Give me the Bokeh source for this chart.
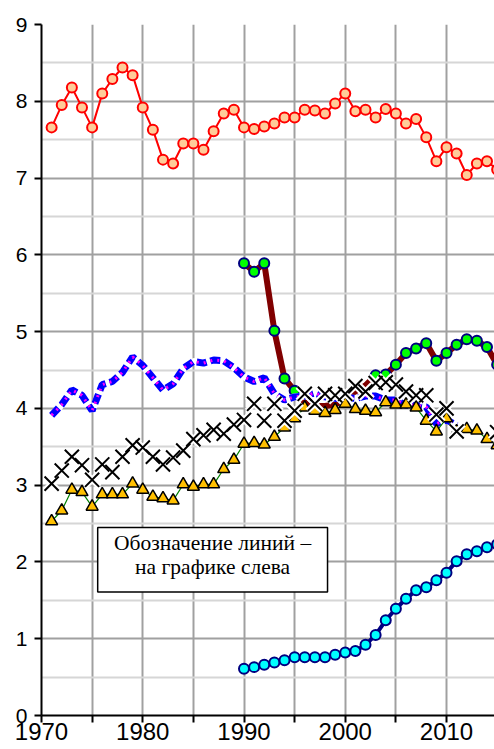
import numpy as np
from bokeh.plotting import figure
from bokeh.models import FixedTicker, Range1d, BoxAnnotation, Label, ColumnDataSource, CDSView, IndexFilter
from bokeh.embed import file_html
from bokeh.resources import INLINE

# ---------------- data ----------------
years_full = list(range(1971, 2016))
years_late = list(range(1990, 2016))
years_blue = list(range(1971, 2012))

red_vals = [7.66, 7.95, 8.18, 7.92, 7.66, 8.10, 8.29, 8.44, 8.34, 7.92,
            7.63, 7.24, 7.19, 7.45, 7.45, 7.37, 7.61, 7.84, 7.89, 7.66,
            7.64, 7.67, 7.71, 7.79, 7.79, 7.89, 7.88, 7.84, 7.97, 8.10,
            7.87, 7.89, 7.79, 7.90, 7.84, 7.71, 7.77, 7.53, 7.22, 7.40,
            7.32, 7.04, 7.19, 7.22, 7.11]

maroon_vals = [5.89, 5.78, 5.89, 5.01, 4.39, 4.23, 4.08, 4.03, 4.03, 4.05,
               4.12, 4.22, 4.30, 4.43, 4.44, 4.57, 4.72, 4.78, 4.85, 4.62,
               4.72, 4.83, 4.90, 4.88, 4.80, 4.57]
# years of the maroon series whose markers are not visible (hidden under crosses)
maroon_hidden_years = [1996, 1997, 1998, 1999, 2000, 2001, 2002]

blue_vals = [3.91, 4.05, 4.24, 4.17, 3.97, 4.31, 4.35, 4.47, 4.67, 4.56,
             4.40, 4.24, 4.32, 4.52, 4.61, 4.59, 4.63, 4.62, 4.53, 4.41,
             4.35, 4.40, 4.19, 4.11, 4.15, 4.16, 4.20, 4.15, 4.13, 4.14,
             4.13, 4.16, 4.16, 4.11, 4.11, 4.04, 4.04, 4.02, 3.80, 3.85,
             3.78]

cross_vals = [3.02, 3.19, 3.37, 3.26, 3.07, 3.27, 3.17, 3.37, 3.52, 3.49,
              3.37, 3.27, 3.36, 3.45, 3.60, 3.65, 3.72, 3.67, 3.79, 3.85,
              4.06, 3.84, 4.06, 3.84, 3.97, 4.19, 4.06, 4.19, 4.17, 4.19,
              4.29, 4.22, 4.33, 4.34, 4.31, 4.22, 4.17, 4.17, 3.92, 4.00,
              3.70, np.nan, np.nan, np.nan, 3.69]

tri_vals = [2.53, 2.67, 2.94, 2.91, 2.72, 2.88, 2.88, 2.88, 3.02, 2.94,
            2.85, 2.83, 2.80, 3.01, 2.98, 3.01, 3.01, 3.21, 3.33, 3.54,
            3.55, 3.53, 3.63, 3.75, 3.87, 4.01, 3.97, 3.94, 3.98, 4.06,
            3.99, 3.97, 3.95, 4.08, 4.05, 4.05, 4.01, 3.84, 3.70, 3.87,
            3.70, 3.73, 3.71, 3.60, 3.52]

cyan_vals = [0.61, 0.63, 0.66, 0.69, 0.72, 0.76, 0.76, 0.76, 0.76, 0.79,
             0.82, 0.84, 0.92, 1.05, 1.24, 1.39, 1.52, 1.63, 1.67, 1.76,
             1.86, 2.01, 2.10, 2.14, 2.19, 2.23]

x_ticks = list(range(1970, 2020, 5))
x_tick_labels = {t: (str(t) if t % 10 == 0 else "") for t in x_ticks}
y_ticks = list(range(0, 10))
note_text_1 = "Обозначение линий –"
note_text_2 = "на графике слева"

# ---------------- figure ----------------
p = figure(width=494, height=749, output_backend="svg", toolbar_location=None,
           x_range=Range1d(1970, 2014.74), y_range=Range1d(0, 9),
           min_border_left=41, min_border_right=0, min_border_top=24,
           min_border_bottom=34)
p.outline_line_color = None
p.background_fill_color = "white"
p.border_fill_color = "white"

# grid
p.xgrid.ticker = FixedTicker(ticks=x_ticks)
p.xgrid.grid_line_color = "#a0a0a0"
p.xgrid.grid_line_width = 2
p.ygrid.ticker = FixedTicker(ticks=y_ticks, minor_ticks=[v + 0.5 for v in y_ticks])
p.ygrid.grid_line_color = "#a0a0a0"
p.ygrid.grid_line_width = 2
p.ygrid.minor_grid_line_color = "#d6d6d6"
p.ygrid.minor_grid_line_width = 2

# axes
for ax in (p.xaxis[0], p.yaxis[0]):
    ax.axis_line_color = "black"
    ax.axis_line_width = 2
    ax.major_tick_line_color = "black"
    ax.major_tick_line_width = 2
    ax.major_tick_out = 7
    ax.major_tick_in = 0
    ax.minor_tick_line_color = None
    ax.major_label_text_font = "Liberation Sans"
    ax.major_label_text_color = "black"

p.xaxis[0].ticker = FixedTicker(ticks=x_ticks)
p.xaxis[0].major_label_overrides = x_tick_labels
p.xaxis[0].major_label_text_font_size = "24px"
p.xaxis[0].major_label_standoff = 0
p.yaxis[0].ticker = FixedTicker(ticks=y_ticks)
p.yaxis[0].major_label_text_font_size = "21px"
p.yaxis[0].major_label_standoff = 7

# ---------------- series ----------------
# red
p.line(years_full, red_vals, line_color="#ff0000", line_width=2)
p.scatter(years_full, red_vals, marker="circle", size=10,
          fill_color="#ffcc99", line_color="#ff0000", line_width=2)

# cyan
p.line(years_late, cyan_vals, line_color="#000080", line_width=4)
p.scatter(years_late, cyan_vals, marker="circle", size=10,
          fill_color="#00ffff", line_color="#000080", line_width=2)

# maroon / green
maroon_src = ColumnDataSource(dict(x=years_late, y=maroon_vals))
p.line("x", "y", source=maroon_src, line_color="#800000", line_width=6)
shown = [i for i, yr in enumerate(years_late) if yr not in maroon_hidden_years]
p.scatter("x", "y", source=maroon_src, view=CDSView(filter=IndexFilter(shown)),
          marker="circle", size=10,
          fill_color="#00ff00", line_color="#000080", line_width=2)

# blue dashed with magenta dots
p.line(years_blue, blue_vals, line_color="white", line_width=7)
p.line(years_blue, blue_vals, line_color="#0000ff", line_width=7, line_dash="10 4")
p.line(years_blue, blue_vals, line_color="#ff00ff", line_width=3, line_dash="2 5")

# triangles
p.line(years_full, tri_vals, line_color="#008000", line_width=1.2)
p.scatter(years_full, tri_vals, marker="triangle", size=12,
          fill_color="#ffc000", line_color="black", line_width=1.5)

# crosses
cross_arr = np.array(cross_vals, dtype=float)
years_arr = np.array(years_full, dtype=float)
p.scatter(years_arr, cross_arr, marker="x", size=20, line_color="white", line_width=6)
p.scatter(years_arr, cross_arr, marker="x", size=20, line_color="black", line_width=2)

# ---------------- note box ----------------
box = BoxAnnotation(left=1975.55, right=1998.25, bottom=1.61, top=2.45,
                    fill_color="white", fill_alpha=1.0,
                    line_color="black", line_width=1.5, line_alpha=1.0)
p.add_layout(box)
p.add_layout(Label(x=1986.9, y=2.25, text=note_text_1, text_align="center",
                   text_baseline="middle", text_font="Liberation Serif",
                   text_font_size="21.5px", text_color="black"))
p.add_layout(Label(x=1986.9, y=1.94, text=note_text_2, text_align="center",
                   text_baseline="middle", text_font="Liberation Serif",
                   text_font_size="21.5px", text_color="black"))

open("out.html", "w").write(file_html(p, INLINE))
